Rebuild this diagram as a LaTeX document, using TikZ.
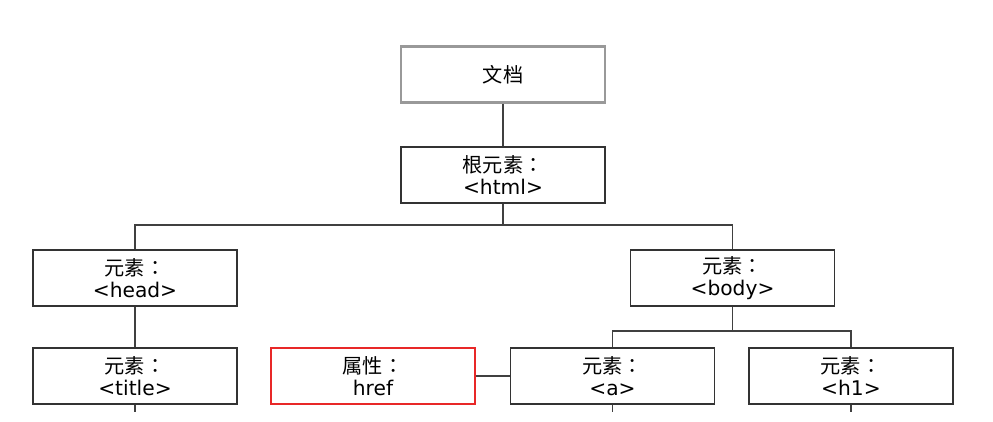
\documentclass[tikz,border=0pt]{standalone}
\usepackage{fontspec}
\setmainfont{DejaVu Sans}
\newfontfamily\cjk{Noto Sans CJK SC}
\newfontfamily\cjkjp{Noto Sans CJK JP}
\newcommand{\fullcolon}{{\cjkjp ：}}
\usepackage{tikz}
\usetikzlibrary{positioning,calc}
\definecolor{attrred}{RGB}{232,40,40}

\begin{document}
\begin{tikzpicture}[
    elem/.style={draw=black!80, line width=1pt, align=center, minimum width=4.08cm, minimum height=1.12cm, inner sep=1pt, font=\fontsize{11.5}{12.5}\selectfont},
    docbox/.style={elem, draw=black!40, line width=1.6pt},
    attr/.style={elem, draw=attrred, line width=1pt},
    link/.style={draw=black!75, line width=1pt}
]
    \useasboundingbox (0,0) rectangle (19.86,-8.42);

    % Document
    \node[docbox] (doc) at (10.06,-1.49) {\cjk 文档};

    % Root
    \node[elem] (html) at (10.06,-3.5) {{\cjk 根元素}\fullcolon\\<html>};

    % Head side
    \node[elem] (head) at (2.7,-5.56) {{\cjk 元素}\fullcolon\\<head>};
    \node[elem] (title) at (2.7,-7.52) {{\cjk 元素}\fullcolon\\<title>};

    % Body side
    \node[elem] (body) at (14.65,-5.56) {{\cjk 元素}\fullcolon\\<body>};
    \node[attr] (href) at (7.46,-7.52) {{\cjk 属性}\fullcolon\\href};
    \node[elem] (a) at (12.25,-7.52) {{\cjk 元素}\fullcolon\\<a>};
    \node[elem] (h1) at (17.02,-7.52) {{\cjk 元素}\fullcolon\\<h1>};

    \coordinate (roothub) at (10.06,-4.5);
    \coordinate (bodyhub) at (14.65,-6.62);

    \draw[link] (doc) -- (html);
    \draw[link] (html) -- (roothub);
    \draw[link] (head.north) |- (roothub) -| (body.north);
    \draw[link] (head) -- (title);
    \draw[link] (body) -- (bodyhub);
    \draw[link] (a.north) |- (bodyhub) -| (h1.north);
    \draw[link] (href) -- (a);

    \foreach \n in {title,a,h1} {
        \coordinate (\n-end) at ([yshift=-0.15cm]\n.south);
        \draw[link] (\n.south) -- (\n-end);
    }
\end{tikzpicture}
\end{document}
